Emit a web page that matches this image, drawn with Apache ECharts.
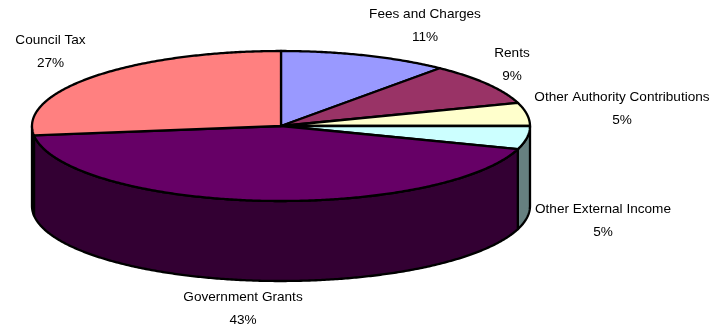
<!DOCTYPE html>
<html>
<head>
<meta charset="utf-8">
<style>html,body{margin:0;padding:0;background:#fff}#chart{width:711px;height:328px}</style>
<script src="https://cdn.jsdelivr.net/npm/echarts@6/dist/echarts.min.js"></script>
</head>
<body>
<div id="chart"></div>
<script>
// Income sources, in percent of the total, clockwise from twelve o'clock
const categories = ['Fees and Charges', 'Rents', 'Other Authority Contributions', 'Other External Income', 'Government Grants', 'Council Tax'];
const shares = [11, 9, 5, 5, 43, 27];

const topColors = ['#9999FF', '#993366', '#FFFFCC', '#CCFFFF', '#660066', '#FF8080'];
const wallColors = ['#4D4D80', '#4D1A33', '#808066', '#668080', '#330033', '#804040'];

// Tilted disc: ellipse centre, radii and wall height in pixels
const disc = { cx: 281, cy: 126, rx: 249, ry: 75, depth: 80 };

// Centre of each two-line label
const labelCentres = [[425, 25.5], [512, 64.5], [622, 108.5], [603, 221], [243, 308.5], [50.5, 51.5]];

const total = shares.reduce((a, b) => a + b, 0);
const starts = shares.map((_, i) => shares.slice(0, i).reduce((a, b) => a + b, 0));

function rimPoint(deg, drop) {
  const t = deg * Math.PI / 180;
  return [disc.cx + disc.rx * Math.sin(t), disc.cy - disc.ry * Math.cos(t) + drop];
}
function arc(fromDeg, toDeg, drop) {
  const pts = [];
  const n = Math.max(2, Math.ceil(Math.abs(toDeg - fromDeg) * 2));
  for (let i = 0; i <= n; i++) pts.push(rimPoint(fromDeg + (toDeg - fromDeg) * i / n, drop));
  return pts;
}
const outline = { stroke: '#000', lineWidth: 2.3, lineJoin: 'round' };

function renderWall(params, api) {
  const i = api.value(0);
  const a = Math.max(api.value(1) / total * 360, 90);
  const b = Math.min((api.value(1) + api.value(2)) / total * 360, 270);
  if (a >= b) return { type: 'group', children: [] };
  return {
    type: 'polygon',
    shape: { points: arc(a, b, 0).concat(arc(b, a, disc.depth)) },
    style: Object.assign({ fill: wallColors[i] }, outline)
  };
}
function renderTop(params, api) {
  const i = api.value(0);
  const a = api.value(1) / total * 360;
  const b = (api.value(1) + api.value(2)) / total * 360;
  return {
    type: 'group',
    children: [{
      type: 'polygon',
      shape: { points: [[disc.cx, disc.cy]].concat(arc(a, b, 0)) },
      style: Object.assign({ fill: topColors[i] }, outline)
    }, {
      type: 'text',
      style: {
        x: labelCentres[i][0], y: labelCentres[i][1],
        text: categories[i] + '\n' + shares[i] + '%',
        align: 'center', verticalAlign: 'middle',
        fill: '#000', font: '13.6px "Liberation Sans", Arial, sans-serif', lineHeight: 23
      }
    }]
  };
}

const rows = shares.map((v, i) => [i, starts[i], v]);
const chart = echarts.init(document.getElementById('chart'), null, { renderer: 'canvas' });
chart.setOption({
  backgroundColor: '#fff',
  animation: false,
  series: [
    { type: 'custom', coordinateSystem: 'none', renderItem: renderWall, data: rows, silent: true, z: 1 },
    { type: 'custom', coordinateSystem: 'none', renderItem: renderTop, data: rows, silent: true, z: 2 }
  ]
});
</script>
</body>
</html>
